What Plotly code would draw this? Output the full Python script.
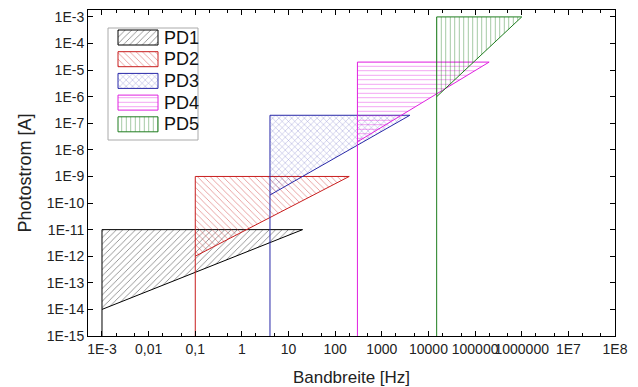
import plotly.graph_objects as go

names = ["PD1", "PD2", "PD3", "PD4", "PD5"]
x_start = [1e-3, 0.1, 4, 300, 15000]
x_tip = [20, 200, 4000, 2e5, 1e6]
y_low = [1e-14, 1e-12, 2e-10, 2e-8, 1e-6]
y_top = [1e-11, 1e-9, 2e-7, 2e-5, 1e-3]
colors = ["#000000", "#c81e1e", "#2828a8", "#e020e0", "#1e7d1e"]
patterns = ["/", "\\", "x", "-", "|"]

y_floor = 1e-15

x_tickvals = [1e-3, 1e-2, 1e-1, 1, 10, 100, 1e3, 1e4, 1e5, 1e6, 1e7, 1e8]
x_ticktext = ["1E-3", "0,01", "0,1", "1", "10", "100", "1000", "10000",
              "100000", "1000000", "1E7", "1E8"]
y_tickvals = [10.0 ** e for e in range(-15, -2)]
y_ticktext = ["1E%d" % e for e in range(-15, -2)]

FONT = "Liberation Sans, Arial"

fig = go.Figure()
for i in range(5):
    # hatched triangle
    fig.add_trace(go.Scatter(
        x=[x_start[i], x_tip[i], x_start[i], x_start[i]],
        y=[y_top[i], y_top[i], y_low[i], y_top[i]],
        mode="none", fill="toself", name=names[i],
        fillcolor="rgba(0,0,0,0)", showlegend=False, hoverinfo="skip",
        fillpattern=dict(shape=patterns[i], fgcolor=colors[i],
                         bgcolor="rgba(0,0,0,0)", size=4.5, solidity=0.18),
    ))
    # outline, with the vertical edge running down to the axis
    fig.add_trace(go.Scatter(
        x=[x_start[i], x_start[i], x_tip[i], x_start[i]],
        y=[y_floor, y_top[i], y_top[i], y_low[i]],
        mode="lines", line=dict(color=colors[i], width=1),
        showlegend=False, hoverinfo="skip"))

# Hand-drawn legend on an overlay axis measured in pixels of the plot area
box_x0, box_x1, box_y0, box_y1 = 108, 198, 28, 140
fig.add_trace(go.Scatter(
    x=[box_x0, box_x1, box_x1, box_x0, box_x0],
    y=[box_y0, box_y0, box_y1, box_y1, box_y0],
    mode="lines", fill="toself", fillcolor="white",
    line=dict(color="#aaaaaa", width=1),
    xaxis="x2", yaxis="y2", showlegend=False, hoverinfo="skip"))
sw_x0, sw_x1, sw_h, row0, row_gap = 118, 158, 15, 37.5, 21.7
for i in range(5):
    cy = row0 + i * row_gap
    fig.add_trace(go.Scatter(
        x=[sw_x0, sw_x1, sw_x1, sw_x0, sw_x0],
        y=[cy - sw_h / 2, cy - sw_h / 2, cy + sw_h / 2, cy + sw_h / 2, cy - sw_h / 2],
        mode="lines", fill="toself", fillcolor="rgba(0,0,0,0)",
        line=dict(color=colors[i], width=1),
        fillpattern=dict(shape=patterns[i], fgcolor=colors[i],
                         bgcolor="rgba(0,0,0,0)", size=4.5, solidity=0.18),
        xaxis="x2", yaxis="y2", showlegend=False, hoverinfo="skip"))
    fig.add_annotation(x=162, y=cy, xref="x2", yref="y2", text=names[i],
                       showarrow=False, xanchor="left", yanchor="middle",
                       font=dict(family=FONT, size=18, color="#111"))

axis_common = dict(
    type="log", showgrid=False, zeroline=False, showline=True,
    linecolor="black", linewidth=1, mirror="allticks", automargin=False,
    ticks="inside", ticklen=5, tickcolor="black", tickangle=0,
    minor=dict(ticks="inside", ticklen=3, tickcolor="black", showgrid=False),
    tickfont=dict(family=FONT, size=14, color="#222"),
)

fig.update_layout(
    width=638, height=387,
    margin=dict(l=88, r=23, t=10, b=51),
    paper_bgcolor="white", plot_bgcolor="white",
    showlegend=False,
    xaxis=dict(axis_common, range=[-3.3, 8], tickvals=x_tickvals,
               ticktext=x_ticktext,
               title=dict(text="Bandbreite [Hz]", standoff=17,
                          font=dict(family=FONT, size=17, color="#222"))),
    yaxis=dict(axis_common, range=[-15, -2.74], tickvals=y_tickvals,
               ticktext=y_ticktext,
               title=dict(text="Photostrom [A]", standoff=10,
                          font=dict(family=FONT, size=18, color="#222"))),
    xaxis2=dict(overlaying="x", range=[88, 615], visible=False, fixedrange=True),
    yaxis2=dict(overlaying="y", range=[336, 10], visible=False, fixedrange=True),
)

fig.write_html("out.html")
